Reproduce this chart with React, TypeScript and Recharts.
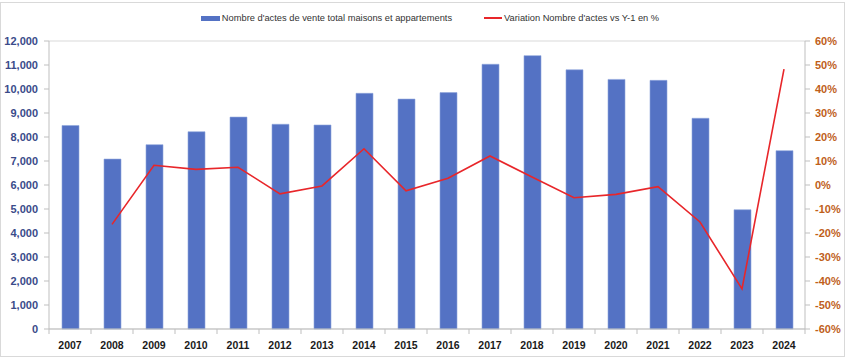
import React from "react";
import {
  ComposedChart,
  Bar,
  Line,
  XAxis,
  YAxis,
  CartesianGrid,
  Legend,
} from "recharts";

const years = [
  "2007", "2008", "2009", "2010", "2011", "2012", "2013", "2014", "2015",
  "2016", "2017", "2018", "2019", "2020", "2021", "2022", "2023", "2024",
];
const actes = [
  8480, 7080, 7680, 8220, 8830, 8530, 8500, 9820, 9580, 9850, 11030, 11390,
  10800, 10400, 10360, 8780, 4970, 7430,
];
const variation: (number | null)[] = [
  null, -16.4, 8.2, 6.5, 7.4, -3.7, -0.4, 15.1, -2.4, 2.8, 12.1, 3.3, -5.3,
  -3.9, -0.7, -15.4, -43.3, 48.3,
];
const leftTicks = [0, 1000, 2000, 3000, 4000, 5000, 6000, 7000, 8000, 9000, 10000, 11000, 12000];
const rightTicks = [-60, -50, -40, -30, -20, -10, 0, 10, 20, 30, 40, 50, 60];
const barName = "Nombre d'actes de vente total maisons et appartements";
const lineName = "Variation Nombre d'actes vs Y-1 en %";

const data = years.map((y, i) => ({ year: y, actes: actes[i], variation: variation[i] }));

const FONT = "'Liberation Sans', Arial, sans-serif";

const XTick = (props: any) => {
  const { x, y, payload } = props;
  const off = payload && payload.offset ? payload.offset : 0;
  return (
    <g>
      <line x1={x + off} x2={x + off} y1={y - 8} y2={y - 3} stroke="#BFBFBF" />
      {payload.index === 0 ? (
        <line x1={x - off} x2={x - off} y1={y - 8} y2={y - 3} stroke="#BFBFBF" />
      ) : null}
      <text
        x={x}
        y={y + 12}
        textAnchor="middle"
        fontFamily={FONT}
        fontWeight="bold"
        fontSize={10.5}
        fill="#1a1a1a"
      >
        {payload.value}
      </text>
    </g>
  );
};

const LegendContent = () => (
  <div
    style={{
      display: "flex",
      justifyContent: "center",
      alignItems: "center",
      fontFamily: FONT,
      fontSize: 9.3,
      color: "#333",
      paddingLeft: 10,
    }}
  >
    <span style={{ display: "inline-block", width: 19, height: 5, background: "#5472C4", marginRight: 2 }} />
    <span>{barName}</span>
    <span style={{ display: "inline-block", width: 32 }} />
    <span style={{ display: "inline-block", width: 18, height: 1.5, background: "#E8262A", marginRight: 2 }} />
    <span>{lineName}</span>
  </div>
);

export default function App() {
  return (
    <div
      style={{
        position: "absolute",
        left: 0,
        top: 0,
        width: 850,
        height: 361,
        background: "#fff",
      }}
    >
      <div
        style={{
          position: "absolute",
          left: 0,
          top: 2,
          width: 845,
          height: 355,
          border: "1px solid #D9D9D9",
          boxSizing: "border-box",
        }}
      />
      <ComposedChart
        width={850}
        height={361}
        data={data}
        margin={{ top: 27, right: 0, bottom: 2, left: 0 }}
        barSize={17}
        style={{ position: "absolute", left: 0, top: 0 }}
      >
        <CartesianGrid vertical={false} stroke="#D9D9D9" strokeWidth={1} />
        <XAxis
          dataKey="year"
          height={30}
          tick={<XTick />}
          tickLine={false}
          axisLine={{ stroke: "#BFBFBF" }}
          interval={0}
        />
        <YAxis
          yAxisId="left"
          width={49}
          domain={[0, 12000]}
          ticks={leftTicks}
          interval={0}
          tickFormatter={(v: number) => v.toLocaleString("en-US")}
          tick={{ fill: "#3A4B8A", fontSize: 11, fontFamily: FONT, fontWeight: "bold" }}
          tickLine={{ stroke: "#BFBFBF" }}
          axisLine={{ stroke: "#BFBFBF" }}
          tickSize={5}
          tickMargin={6}
        />
        <YAxis
          yAxisId="right"
          orientation="right"
          width={45}
          domain={[-60, 60]}
          ticks={rightTicks}
          interval={0}
          tickFormatter={(v: number) => `${v}%`}
          tick={{ fill: "#C0601A", fontSize: 11, fontFamily: FONT, fontWeight: "bold" }}
          tickLine={{ stroke: "#BFBFBF" }}
          axisLine={{ stroke: "#BFBFBF" }}
          tickSize={5}
          tickMargin={5}
        />
        <Legend
          verticalAlign="top"
          content={<LegendContent />}
          wrapperStyle={{ position: "absolute", top: 13, left: 0, width: 850, height: 14 }}
        />
        <Bar
          yAxisId="left"
          dataKey="actes"
          name={barName}
          fill="#5472C4"
          stroke="#8FA6DB"
          strokeWidth={0.6}
          isAnimationActive={false}
        />
        <Line
          yAxisId="right"
          dataKey="variation"
          name={lineName}
          stroke="#E8262A"
          strokeWidth={1.6}
          dot={false}
          activeDot={false}
          connectNulls={false}
          isAnimationActive={false}
        />
      </ComposedChart>
    </div>
  );
}
